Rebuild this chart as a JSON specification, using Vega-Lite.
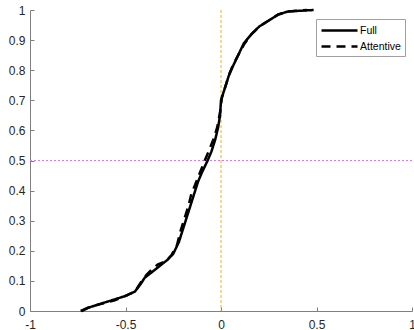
{
  "$schema": "https://vega.github.io/schema/vega-lite/v6.json",
  "width": 382,
  "height": 301,
  "autosize": {"type": "none"},
  "padding": {"left": 30, "top": 10, "right": 2, "bottom": 19},
  "background": "white",
  "config": {
    "view": {"stroke": null},
    "font": "Liberation Sans",
    "axis": {
      "grid": false,
      "domainColor": "#808080",
      "tickColor": "#808080",
      "tickSize": -4,
      "labelColor": "#262626",
      "labelFont": "Liberation Sans",
      "labelFontSize": 12,
      "labelOverlap": false,
      "labelBound": false,
      "labelFlush": false,
      "title": null
    }
  },
  "datasets": {
    "cdf": [
      {"group": "Full", "x": -0.735, "y": 0},
      {"group": "Full", "x": -0.7, "y": 0.01},
      {"group": "Full", "x": -0.65, "y": 0.02},
      {"group": "Full", "x": -0.6, "y": 0.03},
      {"group": "Full", "x": -0.55, "y": 0.04},
      {"group": "Full", "x": -0.5, "y": 0.05},
      {"group": "Full", "x": -0.45, "y": 0.065},
      {"group": "Full", "x": -0.42, "y": 0.09},
      {"group": "Full", "x": -0.4, "y": 0.11},
      {"group": "Full", "x": -0.36, "y": 0.13},
      {"group": "Full", "x": -0.32, "y": 0.15},
      {"group": "Full", "x": -0.28, "y": 0.17},
      {"group": "Full", "x": -0.25, "y": 0.19},
      {"group": "Full", "x": -0.22, "y": 0.23},
      {"group": "Full", "x": -0.2, "y": 0.27},
      {"group": "Full", "x": -0.18, "y": 0.31},
      {"group": "Full", "x": -0.16, "y": 0.35},
      {"group": "Full", "x": -0.14, "y": 0.39},
      {"group": "Full", "x": -0.12, "y": 0.43},
      {"group": "Full", "x": -0.1, "y": 0.46},
      {"group": "Full", "x": -0.07, "y": 0.5},
      {"group": "Full", "x": -0.05, "y": 0.53},
      {"group": "Full", "x": -0.03, "y": 0.57},
      {"group": "Full", "x": -0.015, "y": 0.61},
      {"group": "Full", "x": -0.005, "y": 0.65},
      {"group": "Full", "x": 0.0, "y": 0.7},
      {"group": "Full", "x": 0.02, "y": 0.74},
      {"group": "Full", "x": 0.04, "y": 0.78},
      {"group": "Full", "x": 0.06, "y": 0.81},
      {"group": "Full", "x": 0.09, "y": 0.85},
      {"group": "Full", "x": 0.12, "y": 0.89},
      {"group": "Full", "x": 0.16, "y": 0.92},
      {"group": "Full", "x": 0.2, "y": 0.945},
      {"group": "Full", "x": 0.25, "y": 0.965},
      {"group": "Full", "x": 0.3, "y": 0.985},
      {"group": "Full", "x": 0.35, "y": 0.995},
      {"group": "Full", "x": 0.4, "y": 0.997},
      {"group": "Full", "x": 0.485, "y": 1.0},
      {"group": "Attentive", "x": -0.73, "y": 0},
      {"group": "Attentive", "x": -0.68, "y": 0.015},
      {"group": "Attentive", "x": -0.62, "y": 0.025},
      {"group": "Attentive", "x": -0.56, "y": 0.035},
      {"group": "Attentive", "x": -0.5, "y": 0.05},
      {"group": "Attentive", "x": -0.45, "y": 0.065},
      {"group": "Attentive", "x": -0.42, "y": 0.095},
      {"group": "Attentive", "x": -0.39, "y": 0.12},
      {"group": "Attentive", "x": -0.36, "y": 0.14},
      {"group": "Attentive", "x": -0.33, "y": 0.155},
      {"group": "Attentive", "x": -0.29, "y": 0.165},
      {"group": "Attentive", "x": -0.26, "y": 0.185},
      {"group": "Attentive", "x": -0.23, "y": 0.22},
      {"group": "Attentive", "x": -0.21, "y": 0.27},
      {"group": "Attentive", "x": -0.19, "y": 0.31},
      {"group": "Attentive", "x": -0.17, "y": 0.35},
      {"group": "Attentive", "x": -0.155, "y": 0.39},
      {"group": "Attentive", "x": -0.135, "y": 0.42},
      {"group": "Attentive", "x": -0.11, "y": 0.46},
      {"group": "Attentive", "x": -0.085, "y": 0.5},
      {"group": "Attentive", "x": -0.065, "y": 0.53},
      {"group": "Attentive", "x": -0.04, "y": 0.57},
      {"group": "Attentive", "x": -0.02, "y": 0.61},
      {"group": "Attentive", "x": -0.005, "y": 0.66},
      {"group": "Attentive", "x": 0.005, "y": 0.71},
      {"group": "Attentive", "x": 0.025, "y": 0.75},
      {"group": "Attentive", "x": 0.045, "y": 0.79},
      {"group": "Attentive", "x": 0.065, "y": 0.82},
      {"group": "Attentive", "x": 0.09, "y": 0.85},
      {"group": "Attentive", "x": 0.12, "y": 0.885},
      {"group": "Attentive", "x": 0.16, "y": 0.92},
      {"group": "Attentive", "x": 0.2, "y": 0.945},
      {"group": "Attentive", "x": 0.25, "y": 0.965},
      {"group": "Attentive", "x": 0.3, "y": 0.985},
      {"group": "Attentive", "x": 0.35, "y": 0.995},
      {"group": "Attentive", "x": 0.45, "y": 1.0}
    ]
  },
  "layer": [
    {
      "data": {"values": [{"x": 0}]},
      "mark": {"type": "rule", "color": "#EDB120", "strokeWidth": 1, "strokeDash": [3, 2]},
      "encoding": {"x": {"field": "x", "type": "quantitative"}}
    },
    {
      "data": {"values": [{"y": 0.5}]},
      "mark": {"type": "rule", "color": "#d67ee8", "strokeWidth": 1, "strokeDash": [2, 2]},
      "encoding": {"y": {"field": "y", "type": "quantitative"}}
    },
    {
      "data": {"name": "cdf"},
      "mark": {"type": "line", "color": "black", "strokeWidth": 2.5},
      "encoding": {
        "x": {
          "field": "x", "type": "quantitative",
          "scale": {"domain": [-1, 1], "nice": false, "zero": false},
          "axis": {"values": [-1, -0.5, 0, 0.5, 1], "labelExpr": "'' + datum.value", "labelPadding": 12, "labelOverlap": false}
        },
        "y": {
          "field": "y", "type": "quantitative",
          "scale": {"domain": [0, 1], "nice": false},
          "axis": {"values": [0, 0.1, 0.2, 0.3, 0.4, 0.5, 0.6, 0.7, 0.8, 0.9, 1], "tickCount": 11, "labelExpr": "'' + datum.value", "labelPadding": 9, "labelOverlap": false}
        },
        "strokeDash": {
          "field": "group", "type": "nominal",
          "scale": {"domain": ["Full", "Attentive"], "range": [[1, 0], [9, 6]]},
          "legend": {
            "title": null,
            "orient": "none",
            "legendX": 286,
            "legendY": 9,
            "strokeColor": "#a0a0a0",
            "fillColor": "white",
            "padding": 4,
            "symbolType": "M-1,0L5,0",
            "symbolSize": 144,
            "symbolStrokeWidth": 2.5,
            "symbolStrokeColor": "black",
            "labelFontSize": 10.5,
            "labelColor": "black",
            "labelFont": "Liberation Sans",
            "rowPadding": 3,
            "labelOffset": 25
          }
        },
        "order": {"field": "y", "type": "quantitative"}
      }
    }
  ]
}
